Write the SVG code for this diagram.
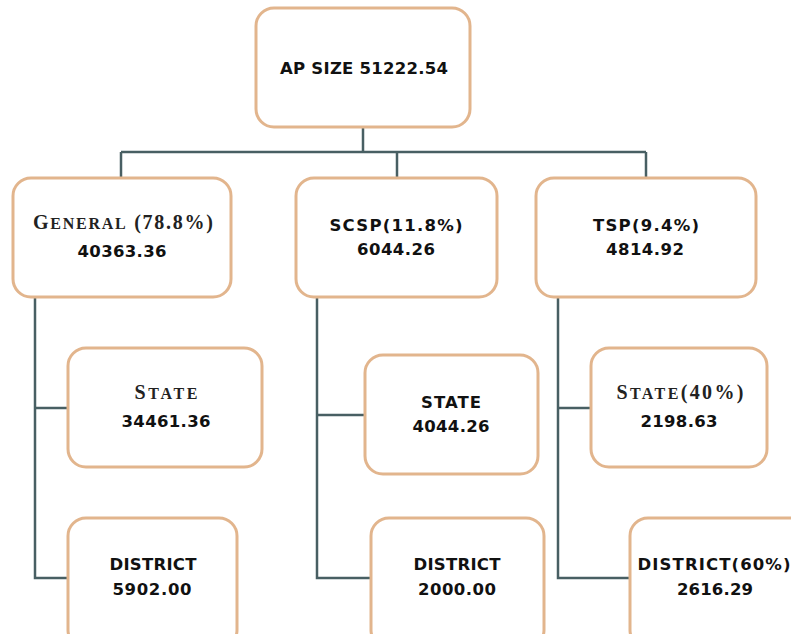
<svg xmlns="http://www.w3.org/2000/svg" width="791" height="634" viewBox="0 0 791 634">
<style>
.box{fill:#fff;stroke:#e2b58d;stroke-width:3}
.ln{fill:none;stroke:#485f63;stroke-width:2.5}
.s{font-family:"DejaVu Sans",Verdana,sans-serif;font-weight:bold;font-size:16.5px;fill:#111;text-anchor:middle}
.r{font-family:"Liberation Serif","Times New Roman",serif;font-weight:bold;fill:#222;text-anchor:middle;font-size:20px}
.sm{font-size:16px}
</style>
<rect width="791" height="634" fill="#fff"/>
<g id="connectors">
<path class="ln" d="M363,127 V152 M121,152 H646 M121,152 V178 M397,152 V178 M646,152 V178"/>
<path class="ln" d="M35,297 V578 H68 M35,408 H68"/>
<path class="ln" d="M317,297 V578 H371 M317,415 H365"/>
<path class="ln" d="M558,297 V578 H630 M558,408 H591"/>
</g>
<g id="n-ap"><rect class="box" x="256" y="8" width="214" height="119" rx="18"/><text class="s" x="364" y="74" textLength="168" lengthAdjust="spacing">AP SIZE 51222.54</text></g>
<g id="n-general"><rect class="box" x="13" y="178" width="218" height="119" rx="18"/><text class="r" x="123" y="229" textLength="180" lengthAdjust="spacing">G<tspan class="sm">ENERAL</tspan> (78.8%)</text><text class="s" x="122" y="257" textLength="89" lengthAdjust="spacing">40363.36</text></g>
<g id="n-scsp"><rect class="box" x="296" y="178" width="201" height="119" rx="18"/><text class="s" x="396" y="231" textLength="133" lengthAdjust="spacing">SCSP(11.8%)</text><text class="s" x="396" y="255" textLength="78" lengthAdjust="spacing">6044.26</text></g>
<g id="n-tsp"><rect class="box" x="536" y="178" width="220" height="119" rx="18"/><text class="s" x="646" y="231" textLength="106" lengthAdjust="spacing">TSP(9.4%)</text><text class="s" x="645" y="255" textLength="78" lengthAdjust="spacing">4814.92</text></g>
<g id="n-gen-state"><rect class="box" x="68" y="348" width="194" height="119" rx="18"/><text class="r" x="166" y="399" textLength="63" lengthAdjust="spacing">S<tspan class="sm">TATE</tspan></text><text class="s" x="166" y="427" textLength="89" lengthAdjust="spacing">34461.36</text></g>
<g id="n-gen-district"><rect class="box" x="68" y="518" width="169" height="130" rx="18"/><text class="s" x="153" y="570" textLength="87" lengthAdjust="spacing">DISTRICT</text><text class="s" x="152" y="595" textLength="79" lengthAdjust="spacing">5902.00</text></g>
<g id="n-scsp-state"><rect class="box" x="365" y="355" width="173" height="119" rx="18"/><text class="s" x="451" y="408" textLength="60" lengthAdjust="spacing">STATE</text><text class="s" x="451" y="432" textLength="77" lengthAdjust="spacing">4044.26</text></g>
<g id="n-scsp-district"><rect class="box" x="371" y="518" width="173" height="130" rx="18"/><text class="s" x="457" y="570" textLength="87" lengthAdjust="spacing">DISTRICT</text><text class="s" x="457" y="595" textLength="78" lengthAdjust="spacing">2000.00</text></g>
<g id="n-tsp-state"><rect class="box" x="591" y="348" width="176" height="119" rx="18"/><text class="r" x="680" y="399" textLength="127" lengthAdjust="spacing">S<tspan class="sm">TATE</tspan>(40%)</text><text class="s" x="679" y="427" textLength="77" lengthAdjust="spacing">2198.63</text></g>
<g id="n-tsp-district"><rect class="box" x="630" y="518" width="190" height="130" rx="18"/><text class="s" x="714" y="570" textLength="153" lengthAdjust="spacing">DISTRICT(60%)</text><text class="s" x="715" y="595" textLength="76" lengthAdjust="spacing">2616.29</text></g>
</svg>
